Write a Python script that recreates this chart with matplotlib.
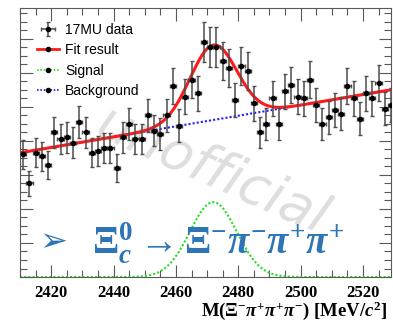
import numpy as np
import matplotlib
matplotlib.use("Agg")
import matplotlib.pyplot as plt
from matplotlib.lines import Line2D
from matplotlib.ticker import MultipleLocator

plt.rcParams['mathtext.fontset'] = 'custom'
plt.rcParams['mathtext.rm'] = 'Liberation Serif:bold'
plt.rcParams['mathtext.it'] = 'Liberation Serif:italic:bold'
plt.rcParams['mathtext.bf'] = 'Liberation Serif:bold'

# data: 2 MeV bins from 2410 to 2530
bin_lo = 2410
bin_w = 2
counts = [72, 55, 73, 71, 66, 85, 81, 82, 79, 91,
          85, 73, 74, 76, 76, 64, 82, 90, 81, 81,
          95, 86, 84, 95, 112, 89, 106, 116, 108, 138,
          135, 135, 127, 123, 104, 124, 121, 102, 85, 90,
          105, 90, 109, 113, 106, 105, 116, 101, 90, 94,
          98, 96, 112, 105, 93, 108, 105, 114, 99, 101]

# fit parameters (linear background + gaussian signal)
bkg_left, bkg_right = 73.0, 110.0
sig_amp, sig_mean, sig_sigma = 44.0, 2472.0, 7.5

x_range = (2410, 2529)
tick_vals = [2420, 2440, 2460, 2480, 2500, 2520]

counts = np.array(counts, dtype=float)
centers = bin_lo + bin_w * (np.arange(len(counts)) + 0.5)
errs = np.sqrt(counts)

xx = np.linspace(x_range[0], x_range[1], 600)
bkg = bkg_left + (bkg_right - bkg_left) * (xx - x_range[0]) / (x_range[1] - x_range[0])
sig = sig_amp * np.exp(-0.5 * ((xx - sig_mean) / sig_sigma) ** 2)
fit = bkg + sig

fig = plt.figure(figsize=(3.93, 3.24), dpi=100)
ax = fig.add_axes([0.051, 0.145, 0.944, 0.830])

# watermark
ax.text(0.52, 0.39, "unofficial", transform=ax.transAxes, fontsize=39,
        color='0.87', rotation=-24, ha='center', va='center',
        family='DejaVu Sans', style='italic', zorder=0)

ax.plot(xx, sig, color='#22e022', ls=(0, (1, 1)), lw=1.5, zorder=2)
ax.plot(xx, bkg, color='#2020ff', ls=(0, (1, 1)), lw=1.5, zorder=3)
ax.plot(xx, fit, color='#ff1a1a', lw=2.2, zorder=4)
eb = ax.errorbar(centers, counts, yerr=errs, xerr=bin_w / 2, fmt='o', ms=3,
                 color='black', ecolor='0.3', elinewidth=1.1, capsize=1.5,
                 zorder=5)

ax.set_xlim(*x_range)
ax.set_ylim(0, 158)
ax.set_xticks(tick_vals)
ax.xaxis.set_minor_locator(MultipleLocator(5))
ax.yaxis.set_major_locator(MultipleLocator(20))
ax.yaxis.set_minor_locator(MultipleLocator(5))
ax.tick_params(which='both', direction='in', top=True, right=True, color='0.35')
ax.tick_params(which='major', length=9, width=0.8)
ax.tick_params(which='minor', length=5, width=0.8)
ax.tick_params(axis='y', labelleft=False)
ax.tick_params(axis='x', pad=6)
for lab in ax.get_xticklabels():
    lab.set_family('Liberation Serif')
    lab.set_fontweight('bold')
    lab.set_fontsize(12)
for s in ax.spines.values():
    s.set_color('0.35')
    s.set_linewidth(0.8)

ax.set_xlabel(r'M($\Xi^{-}\pi^{+}\pi^{+}\pi^{-}$) [MeV/$c^{2}$]',
              family='Liberation Serif', fontweight='bold', fontsize=13.5)
ax.xaxis.set_label_coords(0.99, -0.085)
ax.xaxis.label.set_ha('right')

handles = [eb,
           Line2D([], [], color='#ff1a1a', lw=2, marker='o', ms=3, mfc='black', mec='black'),
           Line2D([], [], color='#22e022', lw=1.2, ls=(0, (1, 1)), marker='o', ms=3, mfc='black', mec='black'),
           Line2D([], [], color='#2020ff', lw=1.2, ls=(0, (1, 1)), marker='o', ms=3, mfc='black', mec='black')]
labels = ['17MU data', 'Fit result', 'Signal', 'Background']
ax.legend(handles, labels, loc='upper left', bbox_to_anchor=(0.03, 0.965),
          frameon=False, prop={'family': 'Liberation Sans', 'size': 10},
          handlelength=1.6, handletextpad=0.45, labelspacing=0.45,
          borderaxespad=0.0)

# decay annotation
ax.text(0.09, 0.13, '\u27a2', transform=ax.transAxes, fontsize=24,
        color='#2e75b6', family='DejaVu Sans', ha='center', va='center', zorder=6)
ax.text(0.195, 0.13, r'$\Xi_{c}^{0}\rightarrow\Xi^{-}\pi^{-}\pi^{+}\pi^{+}$',
        transform=ax.transAxes, fontsize=28, color='#2e75b6',
        ha='left', va='center', zorder=6)

fig.savefig('out.png', dpi=100)
